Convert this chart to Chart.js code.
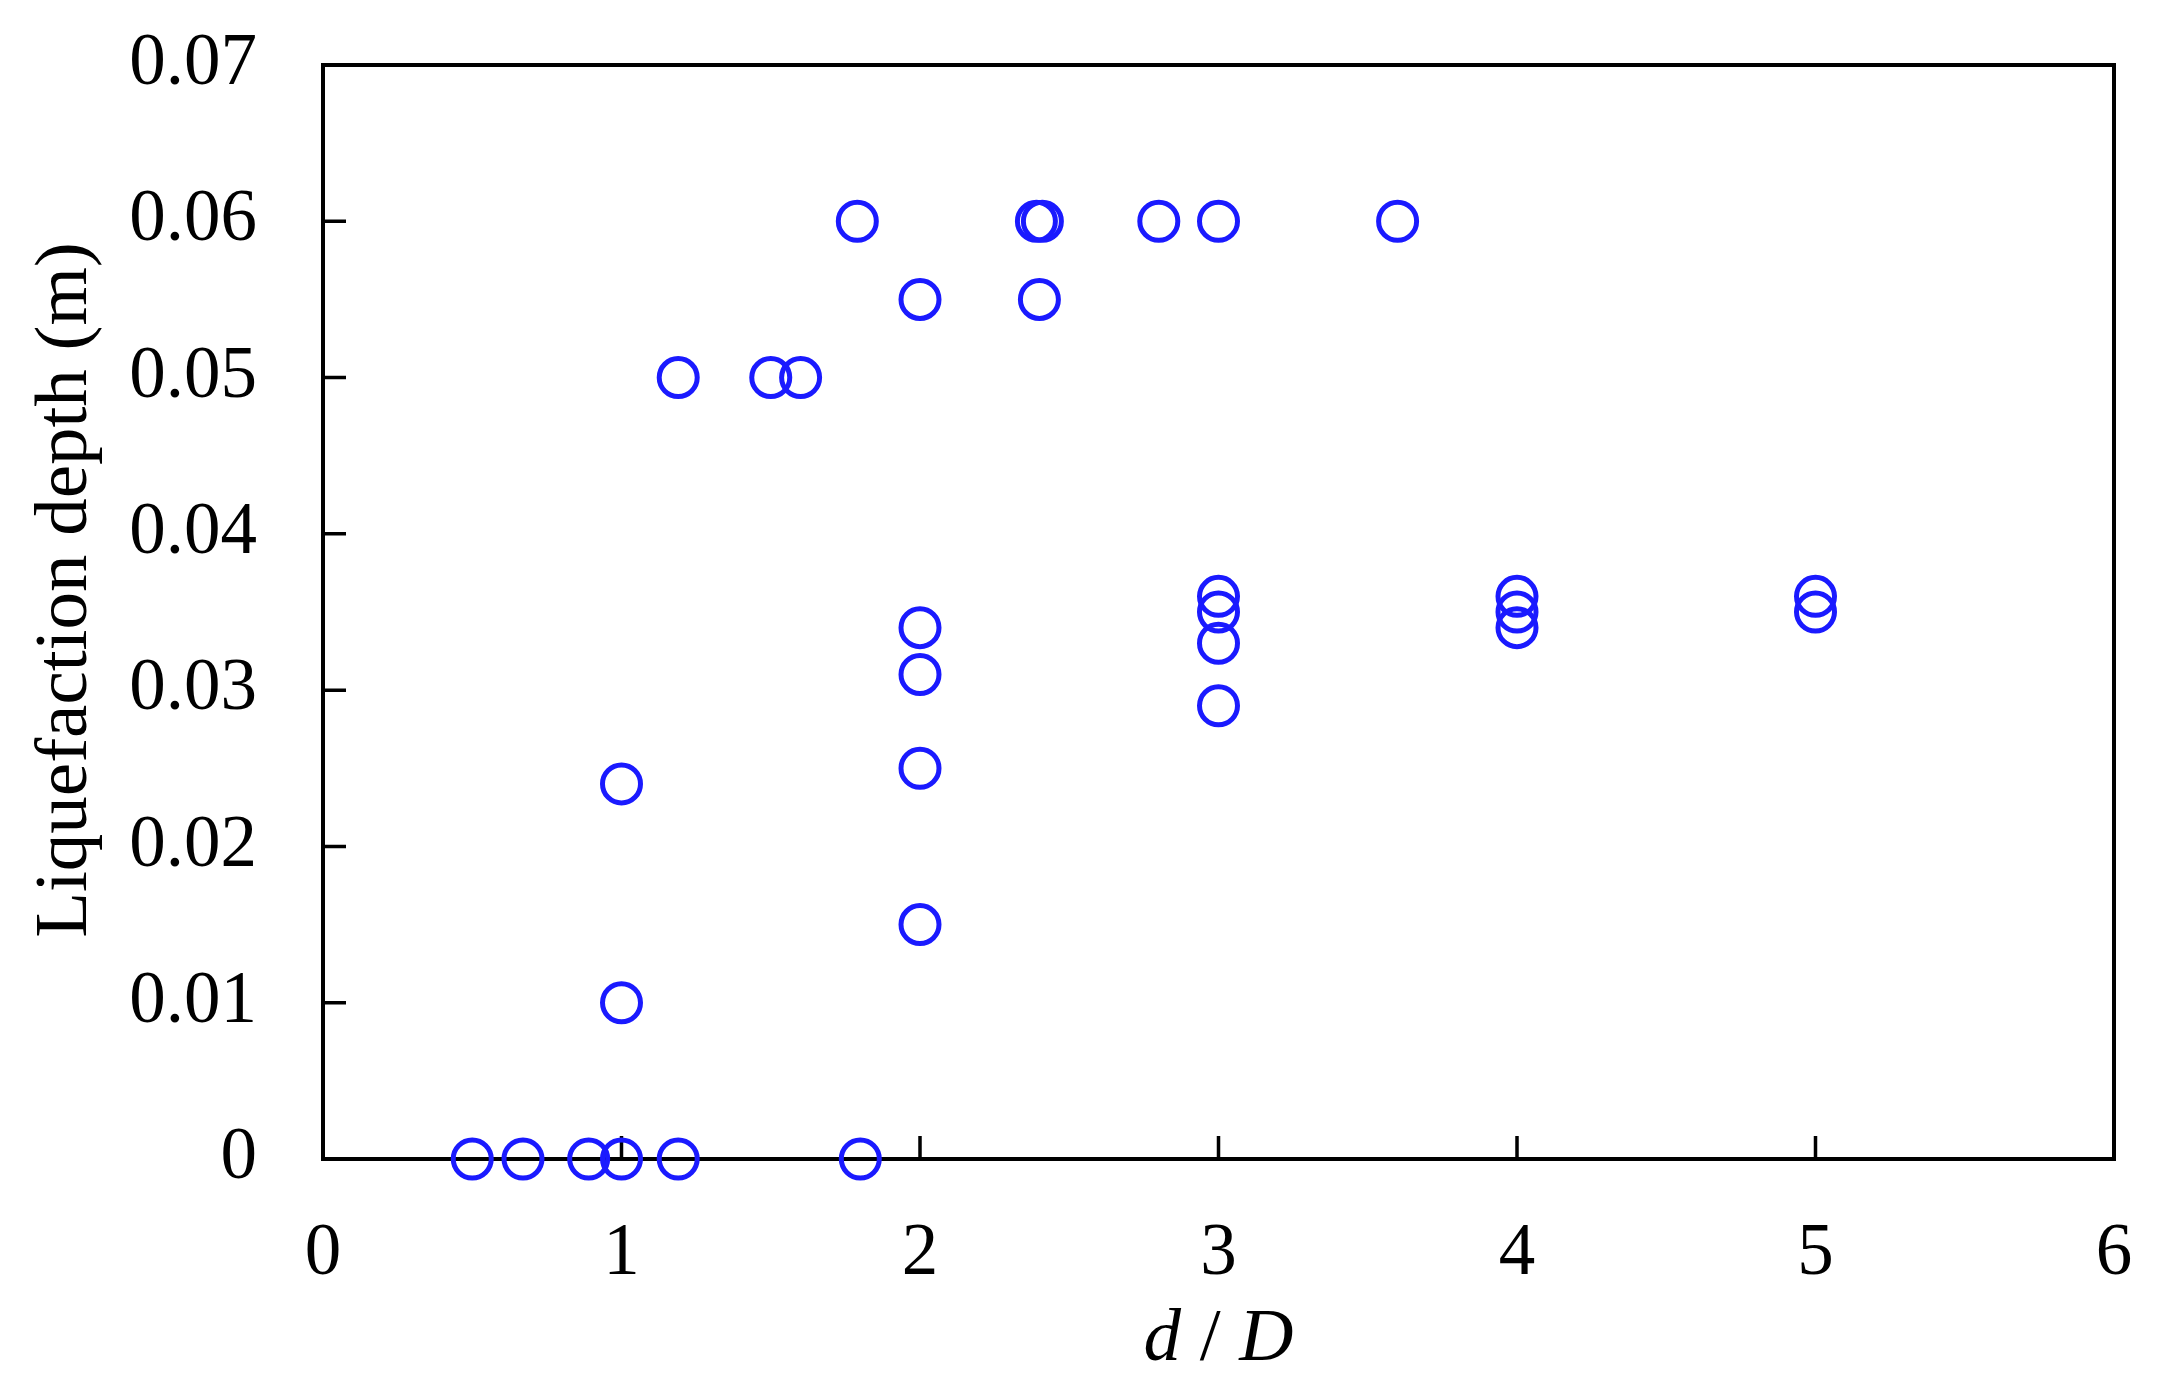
<!DOCTYPE html>
<html>
<head>
<meta charset="utf-8">
<title>Liquefaction depth vs d/D</title>
<script src="https://cdn.jsdelivr.net/npm/chart.js@4.4.0/dist/chart.umd.min.js"></script>
<style>
  html, body { margin: 0; padding: 0; background: #fff; }
  #wrap { width: 2157px; height: 1397px; position: relative; }
</style>
</head>
<body>
<div id="wrap"><canvas id="depthChart"></canvas></div>
<script>
const dOverD = [
  0.5, 0.67, 0.89, 1.0, 1.19, 1.8,
  1.0, 1.0,
  2.0, 2.0, 2.0, 2.0,
  3.0, 3.0, 3.0, 3.0,
  4.0, 4.0, 4.0,
  5.0, 5.0,
  1.19, 1.5, 1.6,
  2.0, 2.4,
  1.79, 2.39, 2.41, 2.8, 3.0, 3.6
];
const depth = [
  0, 0, 0, 0, 0, 0,
  0.01, 0.024,
  0.015, 0.025, 0.031, 0.034,
  0.029, 0.033, 0.035, 0.036,
  0.034, 0.035, 0.036,
  0.035, 0.036,
  0.05, 0.05, 0.05,
  0.055, 0.055,
  0.06, 0.06, 0.06, 0.06, 0.06, 0.06
];
const xTicks = [0, 1, 2, 3, 4, 5, 6];
const yTicks = [0, 0.01, 0.02, 0.03, 0.04, 0.05, 0.06, 0.07];
const yTitle = "Liquefaction depth (m)";

const FONT = "'Liberation Serif', 'Times New Roman', serif";
const BLUE = "#1a1aff";

// frame and inward tick marks, drawn under the markers
const framePlugin = {
  id: "frame",
  beforeDatasetsDraw(chart) {
    const { ctx, chartArea: a, scales } = chart;
    const len = 23;
    ctx.save();
    ctx.strokeStyle = "#000";
    ctx.lineWidth = 4;
    ctx.strokeRect(a.left, a.top, a.right - a.left, a.bottom - a.top);
    ctx.lineWidth = 3.5;
    ctx.beginPath();
    scales.x.ticks.forEach((t) => {
      const px = scales.x.getPixelForValue(t.value);
      ctx.moveTo(px, a.bottom);
      ctx.lineTo(px, a.bottom - len);
    });
    scales.y.ticks.forEach((t) => {
      const py = scales.y.getPixelForValue(t.value);
      ctx.moveTo(a.left, py);
      ctx.lineTo(a.left + len, py);
    });
    ctx.stroke();
    ctx.restore();
  },
  // axis titles: y rotated, x with italic d and D
  afterDraw(chart) {
    const { ctx, chartArea: a } = chart;
    ctx.save();
    ctx.fillStyle = "#000";

    ctx.translate(86, 590);
    ctx.rotate(-Math.PI / 2);
    ctx.font = `75px ${FONT}`;
    ctx.textAlign = "center";
    ctx.textBaseline = "alphabetic";
    ctx.fillText(yTitle, 0, 0);
    ctx.setTransform(1, 0, 0, 1, 0, 0);

    const parts = [
      { t: "d", f: `italic 75px ${FONT}` },
      { t: " / ", f: `75px ${FONT}` },
      { t: "D", f: `italic 75px ${FONT}` },
    ];
    let total = 0;
    parts.forEach((p) => { ctx.font = p.f; p.w = ctx.measureText(p.t).width; total += p.w; });
    let x = (a.left + a.right) / 2 - total / 2;
    ctx.textAlign = "left";
    parts.forEach((p) => { ctx.font = p.f; ctx.fillText(p.t, x, 1360); x += p.w; });
    ctx.restore();
  },
};

new Chart(document.getElementById("depthChart"), {
  type: "scatter",
  data: {
    datasets: [
      {
        label: "Liquefaction depth",
        data: dOverD.map((x, i) => ({ x: x, y: depth[i] })),
        borderColor: BLUE,
        backgroundColor: "rgba(0,0,0,0)",
        borderWidth: 5,
        pointRadius: 19,
        pointHoverRadius: 19,
        clip: false,
      },
    ],
  },
  options: {
    responsive: true,
    maintainAspectRatio: false,
    animation: false,
    layout: { padding: { left: 0, top: 65, right: 43, bottom: 0 } },
    plugins: {
      legend: { display: false },
      tooltip: { enabled: false },
    },
    scales: {
      x: {
        type: "linear",
        min: 0,
        max: 6,
        afterFit: (s) => {
          s.height = 238;
          s.paddingLeft = 0;
          s.paddingRight = 0;
        },
        afterBuildTicks: (s) => { s.ticks = xTicks.map((v) => ({ value: v })); },
        grid: { display: false, drawTicks: false },
        border: { display: false },
        ticks: {
          padding: 52,
          color: "#000",
          font: { family: FONT, size: 73 },
          callback: (v) => String(v),
        },
      },
      y: {
        type: "linear",
        min: 0,
        max: 0.07,
        afterFit: (s) => {
          s.width = 323;
          s.paddingTop = 0;
          s.paddingBottom = 0;
        },
        afterBuildTicks: (s) => { s.ticks = yTicks.map((v) => ({ value: v })); },
        grid: { display: false, drawTicks: false },
        border: { display: false },
        ticks: {
          padding: 66,
          color: "#000",
          font: { family: FONT, size: 73 },
          callback: (v) => (v === 0 ? "0" : v.toFixed(2)),
        },
      },
    },
  },
  plugins: [framePlugin],
});
</script>
</body>
</html>
